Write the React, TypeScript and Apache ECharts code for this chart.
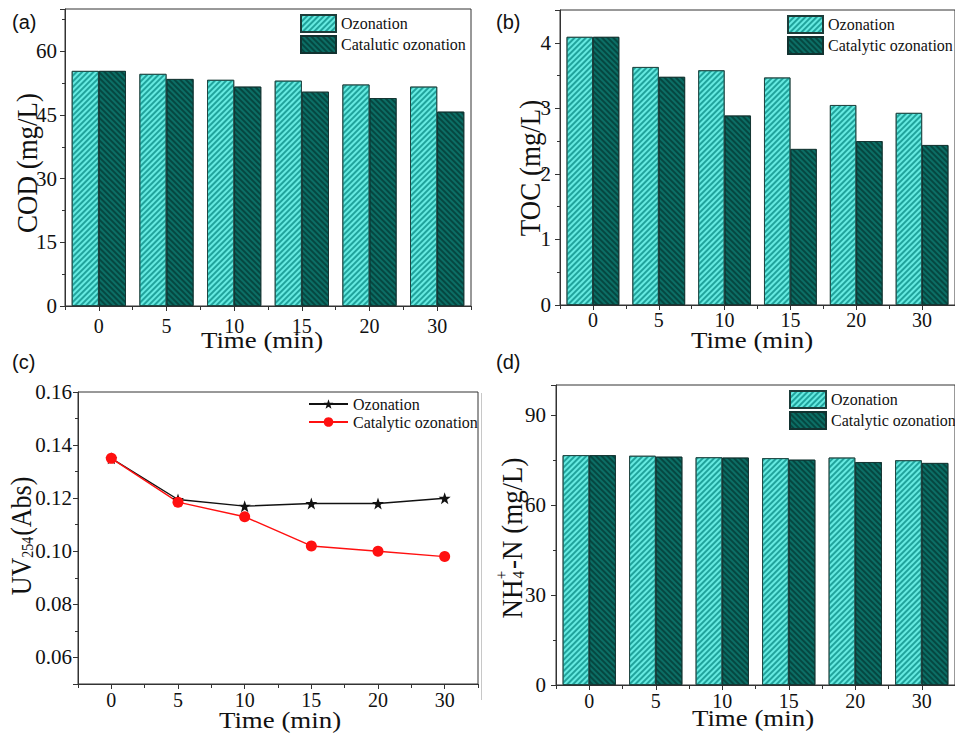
import React, { useEffect, useRef } from "react";
import * as echarts from "echarts";

const times = ["0", "5", "10", "15", "20", "30"];

const codOzonation = [55.4, 54.7, 53.3, 53.1, 52.2, 51.7];
const codCatalytic = [55.4, 53.5, 51.7, 50.5, 49.0, 45.8];

const tocOzonation = [4.09, 3.63, 3.58, 3.47, 3.05, 2.93];
const tocCatalytic = [4.09, 3.48, 2.89, 2.38, 2.5, 2.44];

const uvOzonation = [0.135, 0.1195, 0.117, 0.118, 0.118, 0.12];
const uvCatalytic = [0.135, 0.1185, 0.113, 0.102, 0.1, 0.098];

const nhOzonation = [76.6, 76.4, 75.9, 75.6, 75.8, 74.9];
const nhCatalytic = [76.6, 76.1, 75.8, 75.1, 74.3, 74.0];

const SERIF = "Liberation Serif";
const SANS = "Liberation Sans";
const AX = "#333";
const TXT = "#111";
const STRETCH = 1.12;

const STAR =
  "path://M0,-10 L2.35,-3.24 L9.51,-3.09 L3.8,1.24 L5.88,8.09 L0,4 L-5.88,8.09 L-3.8,1.24 L-9.51,-3.09 L-2.35,-3.24 Z";

const ozonStyle = {
  color: "#66eae1",
  borderColor: "#1d3d3a",
  borderWidth: 0.8,
  decal: {
    symbol: "rect",
    symbolSize: 1,
    dashArrayX: [1, 0],
    dashArrayY: [2, 2],
    rotation: -Math.PI / 4,
    color: "rgba(20,150,144,0.85)",
  },
};
const catStyle = {
  color: "#0c6e65",
  borderColor: "#123230",
  borderWidth: 0.8,
  decal: {
    symbol: "rect",
    symbolSize: 1,
    dashArrayX: [1, 0],
    dashArrayY: [2, 2],
    rotation: Math.PI / 4,
    color: "rgba(3,58,53,0.75)",
  },
};

function mainX(gridIndex: number, margin: number) {
  return {
    type: "category",
    gridIndex,
    data: times,
    boundaryGap: true,
    axisLine: { show: true, lineStyle: { color: AX, width: 1 } },
    axisTick: { show: true, alignWithLabel: true, interval: 0, length: 5, lineStyle: { color: AX } },
    axisLabel: { interval: 0, margin, fontFamily: SERIF, fontSize: 20, color: TXT },
    splitLine: { show: false },
  };
}
function boundX(gridIndex: number) {
  return {
    type: "category",
    gridIndex,
    data: times,
    position: "bottom",
    boundaryGap: true,
    axisLine: { show: false },
    axisTick: { show: true, interval: 0, length: 4, lineStyle: { color: AX } },
    axisLabel: { show: false },
    splitLine: { show: false },
  };
}
function valY(gridIndex: number, extra: any, margin: number, formatter: (v: number) => string) {
  return {
    type: "value",
    gridIndex,
    ...extra,
    axisLine: { show: true, lineStyle: { color: AX, width: 1 } },
    axisTick: { show: true, inside: false, length: 5, lineStyle: { color: AX } },
    minorTick: { show: true, splitNumber: 2, length: 3, lineStyle: { color: AX } },
    splitLine: { show: false },
    minorSplitLine: { show: false },
    axisLabel: { fontFamily: SERIF, fontSize: 21, color: TXT, margin, formatter },
  };
}

function legendBase(left: number, top: number, data: string[], w: number, h: number, icon?: string, strip?: boolean) {
  const l: any = {
    left,
    top,
    orient: "vertical",
    data,
    padding: 0,
    itemGap: 2,
    itemWidth: w,
    itemHeight: h,
    selectedMode: false,
    textStyle: { fontFamily: SERIF, fontSize: 16, color: TXT },
  };
  if (strip) l.formatter = (n: string) => n.replace("UV ", "");
  if (icon) l.icon = icon;
  return l;
}

function timeName(x: number, y: number) {
  return {
    type: "text",
    x,
    y,
    scaleX: STRETCH,
    style: {
      text: "Time (min)",
      fontFamily: SERIF,
      fontSize: 24,
      fill: TXT,
      align: "center",
      verticalAlign: "middle",
    },
  };
}
function yName(x: number, y: number, text: string) {
  return {
    type: "text",
    x,
    y,
    rotation: Math.PI / 2,
    scaleY: STRETCH,
    style: {
      text,
      fontFamily: SERIF,
      fontSize: 27,
      fill: TXT,
      align: "center",
      verticalAlign: "middle",
    },
  };
}
function panelLabel(x: number, y: number, text: string) {
  return {
    type: "text",
    x,
    y,
    style: { text, fontFamily: SANS, fontSize: 20, fill: TXT, align: "left", verticalAlign: "middle" },
  };
}

export default function App() {
  const ref = useRef<HTMLDivElement>(null);
  useEffect(() => {
    if (!ref.current) return;
    const chart = echarts.init(ref.current, null, { renderer: "svg" });
    const gridCommon = { show: true, borderColor: AX, borderWidth: 1, backgroundColor: "transparent", containLabel: false };
    const option: any = {
      animation: false,
      backgroundColor: "#ffffff",
      textStyle: { fontFamily: SERIF },
      grid: [
        { ...gridCommon, left: 65, top: 9, width: 406, height: 297 },
        { ...gridCommon, left: 560, top: 10, width: 402, height: 295 },
        { ...gridCommon, left: 78, top: 392, width: 400, height: 292 },
        { ...gridCommon, left: 556, top: 385, width: 408, height: 300 },
      ],
      xAxis: [mainX(0, 10), boundX(0), mainX(1, 5), boundX(1), mainX(2, 6), boundX(2), mainX(3, 6), boundX(3)],
      yAxis: [
        valY(0, { min: 0, max: 70, interval: 15 }, 8, (v) => (v % 15 === 0 ? String(v) : "")),
        valY(1, { min: 0, max: 4.5, interval: 1 }, 9, (v) => (Math.abs(v - Math.round(v)) < 1e-6 ? String(Math.round(v)) : "")),
        valY(2, { min: 0.05, max: 0.16 }, 6, (v) => (v < 0.055 ? "" : v.toFixed(2))),
        valY(3, { min: 0, max: 100, interval: 30 }, 10, (v) => (v % 30 === 0 ? String(v) : "")),
      ],
      legend: [
        legendBase(300, 14, ["Ozonation", "Catalutic ozonation"], 35, 17, "rect"),
        legendBase(787, 15, ["Ozonation", "Catalytic ozonation"], 35, 17, "rect"),
        legendBase(308, 396, ["UV Ozonation", "UV Catalytic ozonation"], 39, 12, undefined, true),
        legendBase(789, 390, ["Ozonation", "Catalytic ozonation"], 36, 17, "rect"),
      ],
      series: [
        { type: "bar", name: "Ozonation", xAxisIndex: 0, yAxisIndex: 0, data: codOzonation, barGap: "0%", barCategoryGap: "20%", itemStyle: ozonStyle },
        { type: "bar", name: "Catalutic ozonation", xAxisIndex: 0, yAxisIndex: 0, data: codCatalytic, barGap: "0%", barCategoryGap: "20%", itemStyle: catStyle },
        { type: "bar", name: "Ozonation", xAxisIndex: 2, yAxisIndex: 1, data: tocOzonation, barGap: "0%", barCategoryGap: "20%", itemStyle: ozonStyle },
        { type: "bar", name: "Catalytic ozonation", xAxisIndex: 2, yAxisIndex: 1, data: tocCatalytic, barGap: "0%", barCategoryGap: "20%", itemStyle: catStyle },
        {
          type: "line",
          name: "UV Ozonation",
          xAxisIndex: 4,
          yAxisIndex: 2,
          data: uvOzonation,
          symbol: STAR,
          symbolSize: 12,
          lineStyle: { color: "#111", width: 1.4 },
          itemStyle: { color: "#111" },
        },
        {
          type: "line",
          name: "UV Catalytic ozonation",
          xAxisIndex: 4,
          yAxisIndex: 2,
          data: uvCatalytic,
          symbol: "circle",
          symbolSize: 11,
          lineStyle: { color: "#ff1010", width: 1.4 },
          itemStyle: { color: "#ff1010" },
        },
        { type: "bar", name: "Ozonation", xAxisIndex: 6, yAxisIndex: 3, data: nhOzonation, barGap: "0%", barCategoryGap: "20%", itemStyle: ozonStyle },
        { type: "bar", name: "Catalytic ozonation", xAxisIndex: 6, yAxisIndex: 3, data: nhCatalytic, barGap: "0%", barCategoryGap: "20%", itemStyle: catStyle },
      ],
      graphic: [
        panelLabel(12, 22, "(a)"),
        panelLabel(496, 22, "(b)"),
        panelLabel(12, 362, "(c)"),
        panelLabel(496, 362, "(d)"),
        timeName(262, 340),
        timeName(752, 340),
        timeName(280, 720),
        timeName(753, 718),
        yName(26, 163, "COD (mg/L)"),
        yName(529, 168, "TOC (mg/L)"),
        {
          type: "text",
          x: 21,
          y: 536,
          rotation: Math.PI / 2,
          scaleY: STRETCH,
          style: {
            text: "{m|UV}{s|254}{m|(Abs)}",
            align: "center",
            verticalAlign: "middle",
            fill: TXT,
            rich: {
              m: { fontFamily: SERIF, fontSize: 26, fill: TXT, verticalAlign: "bottom" },
              s: { fontFamily: SERIF, fontSize: 14, fill: TXT, verticalAlign: "bottom", padding: [0, 1, 0, 0] },
            },
          },
        },
        {
          type: "group",
          x: 511,
          y: 538,
          rotation: Math.PI / 2,
          scaleY: STRETCH,
          children: [
            {
              type: "text",
              x: 0,
              y: 0,
              style: {
                text: "{m|NH}{s|4}{m|-N (mg/L)}",
                align: "center",
                verticalAlign: "middle",
                fill: TXT,
                rich: {
                  m: { fontFamily: SERIF, fontSize: 27, fill: TXT, verticalAlign: "bottom" },
                  s: { fontFamily: SERIF, fontSize: 15, fill: TXT, verticalAlign: "bottom", padding: [0, 2, 0, 1] },
                },
              },
            },
            {
              type: "text",
              x: -37,
              y: -9,
              style: { text: "+", fontFamily: SERIF, fontSize: 15, fill: TXT, align: "center", verticalAlign: "middle" },
            },
          ],
        },
        {
          type: "line",
          shape: { x1: 481.5, y1: 393, x2: 481.5, y2: 700 },
          style: { stroke: "#c8c8c8", lineWidth: 1 },
        },
      ],
    };
    chart.setOption(option);
    return () => chart.dispose();
  }, []);
  return (
    <div
      ref={ref}
      style={{ position: "fixed", left: 0, top: 0, width: 955, height: 740, background: "#fff" }}
    />
  );
}
